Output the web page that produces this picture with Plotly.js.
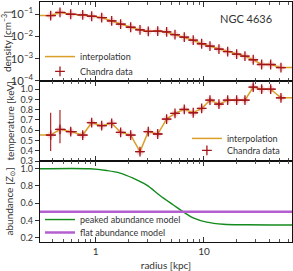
<!DOCTYPE html>
<html>
<head>
<meta charset="utf-8">
<script src="https://cdn.plot.ly/plotly-3.0.1.min.js"></script>
<style>html,body{margin:0;padding:0;background:#fff;}#chart{width:293px;height:271px;}</style>
</head>
<body>
<div id="chart"></div>
<script>
// ---- data ----
var radius = [0.384, 0.468, 0.588, 0.759, 0.918, 1.136, 1.405, 1.70, 2.105, 2.565, 3.06, 3.74, 4.52, 5.40, 6.58, 7.96, 9.52, 11.36, 13.75, 16.55, 20.04, 23.9, 28.5, 34.1, 41.3, 51.4];
var binEdges = [0.35, 0.43, 0.53, 0.67, 0.84, 1.03, 1.27, 1.55, 1.90, 2.33, 2.80, 3.38, 4.11, 4.94, 5.96, 7.24, 8.70, 10.40, 12.50, 15.09, 18.21, 21.89, 26.10, 31.17, 37.54, 46.07, 56.0];
var density = [0.087, 0.12, 0.10, 0.093, 0.081, 0.071, 0.05, 0.036, 0.026, 0.020, 0.017, 0.0175, 0.016, 0.012, 0.0093, 0.0068, 0.0047, 0.0037, 0.0027, 0.0021, 0.0016, 0.0013, 0.0009, 0.00055, 0.00055, 0.0004];
var temperature = [0.553, 0.608, 0.586, 0.553, 0.673, 0.644, 0.667, 0.579, 0.553, 0.391, 0.586, 0.563, 0.709, 0.764, 0.803, 0.77, 0.812, 0.893, 0.854, 0.893, 0.893, 0.893, 1.02, 1.0, 1.0, 0.916];
var tempErrUp = [0.217, 0.19, 0.03, 0.03, 0.02, 0.02, 0.02, 0.02, 0.02, 0.02, 0.02, 0.02, 0.02, 0.02, 0.02, 0.02, 0.02, 0.02, 0.02, 0.02, 0.02, 0.02, 0.03, 0.03, 0.03, 0.02];
var tempErrDown = [0.155, 0.135, 0.03, 0.03, 0.02, 0.02, 0.02, 0.02, 0.02, 0.02, 0.02, 0.02, 0.02, 0.02, 0.02, 0.02, 0.02, 0.02, 0.02, 0.02, 0.02, 0.02, 0.03, 0.03, 0.03, 0.02];
var axisEnds = [0.306, 65];
var abundRadius = [0.306, 0.886, 1.26, 1.68, 2.22, 2.96, 3.92, 5.21, 6.44, 7.96, 10.6, 15.1, 24.8, 65];
var peakedAbund = [1.0, 1.0, 0.98, 0.95, 0.89, 0.81, 0.69, 0.58, 0.50, 0.43, 0.38, 0.356, 0.35, 0.348];
var flatAbund = [0.5, 0.5];
var majorTicks = [1, 10];
var majorLabels = ['1', '10'];
var minorTicks = [0.4, 0.5, 0.6, 0.7, 0.8, 0.9, 2, 3, 4, 5, 6, 7, 8, 9, 20, 30, 40, 50, 60];

// ---- derived ----
var errPlus = radius.map(function(r, i){ return binEdges[i+1] - r; });
var errMinus = radius.map(function(r, i){ return r - binEdges[i]; });
var densInterpX = [axisEnds[0]].concat(radius, [axisEnds[1]]);
var densInterpY = [density[0]].concat(density, [density[density.length-1]]);
var tempInterpY = [temperature[0]].concat(temperature, [temperature[temperature.length-1]]);

var GOLD = '#d9a02a', RED = '#a3151a', HALO = 'rgba(225,90,100,0.22)';
var FONT = 'Lato, "DejaVu Sans", sans-serif';

function dataTrace(y, xa, ya, legend, eY) {
  var t = {x: radius, y: y, xaxis: xa, yaxis: ya, mode: 'markers', type: 'scatter', name: 'Chandra data',
    legend: legend,
    marker: {symbol: 'cross-thin', size: 7, color: RED, line: {color: RED, width: 1.3}},
    error_x: {type: 'data', symmetric: false, array: errPlus, arrayminus: errMinus, color: RED, thickness: 1.1, width: 0}};
  if (eY) t.error_y = {type: 'data', symmetric: false, array: eY[0], arrayminus: eY[1], color: RED, thickness: 1.1, width: 0};
  return t;
}
function haloTrace(y, xa, ya) {
  return {x: radius, y: y, xaxis: xa, yaxis: ya, mode: 'markers', type: 'scatter', showlegend: false, hoverinfo: 'skip',
    marker: {symbol: 'circle', size: 7, color: HALO}};
}

var traces = [
  {x: densInterpX, y: densInterpY, xaxis: 'x', yaxis: 'y', mode: 'lines', name: 'interpolation', legend: 'legend',
   line: {color: GOLD, width: 1.5}},
  haloTrace(density, 'x', 'y'),
  dataTrace(density, 'x', 'y', 'legend2'),
  {x: densInterpX, y: tempInterpY, xaxis: 'x2', yaxis: 'y2', mode: 'lines', name: 'interpolation', legend: 'legend3',
   line: {color: GOLD, width: 1.5}},
  haloTrace(temperature, 'x2', 'y2'),
  dataTrace(temperature, 'x2', 'y2', 'legend4', [tempErrUp, tempErrDown]),
  {x: abundRadius, y: peakedAbund, xaxis: 'x3', yaxis: 'y3', mode: 'lines', name: 'peaked abundance model', legend: 'legend5',
   line: {color: '#138a1c', width: 1.4, shape: 'spline'}},
  {x: axisEnds, y: flatAbund, xaxis: 'x3', yaxis: 'y3', mode: 'lines', name: 'flat abundance model', legend: 'legend6',
   line: {color: '#b45fcf', width: 2.5}}
];

function xax(anchor, showLabels, title) {
  var a = {type: 'log', range: [Math.log10(axisEnds[0]), Math.log10(axisEnds[1])], anchor: anchor,
    tickvals: majorTicks, ticktext: majorLabels, showticklabels: showLabels,
    ticks: 'inside', ticklen: 5, tickcolor: '#333', showline: true, linecolor: '#111', linewidth: 1.2, mirror: 'allticks',
    showgrid: false, zeroline: false, tickfont: {size: 10, color: '#333', family: FONT},
    minor: {tickvals: minorTicks, ticks: 'inside', ticklen: 3, tickcolor: '#555', showgrid: false}};
  if (title) a.title = {text: title, font: {size: 10, color: '#333', family: FONT}, standoff: 6};
  return a;
}
function yax(anchor, domain, extra) {
  var a = {anchor: anchor, domain: domain, ticks: 'outside', ticklen: 4, tickcolor: '#333', showline: true, linecolor: '#111',
    linewidth: 1.2, mirror: true, showgrid: false, zeroline: false, tickfont: {size: 9, color: '#333', family: FONT}};
  for (var k in extra) a[k] = extra[k];
  return a;
}
var titleFont = {size: 10, color: '#333', family: FONT};
var legFont = {size: 9, color: '#333', family: FONT};
function leg(x, y) {
  return {x: x, y: y, xanchor: 'left', yanchor: 'top', bgcolor: 'rgba(0,0,0,0)', font: legFont};
}

var layout = {
  width: 293, height: 271, margin: {l: 40, r: 1, t: 2, b: 29},
  paper_bgcolor: '#fff', plot_bgcolor: '#fff', showlegend: true,
  font: {family: FONT, color: '#333'},
  xaxis: xax('y', false),
  xaxis2: xax('y2', false),
  xaxis3: xax('y3', true, 'radius [kpc]'),
  yaxis: yax('x', [0.671, 1], {type: 'log', range: [-4, -0.45], dtick: 1, exponentformat: 'power',
    title: {text: 'density [cm<sup>\u22123</sup>]', font: titleFont, standoff: 2}}),
  yaxis2: yax('x2', [0.3375, 0.671], {range: [0.3, 1.08], dtick: 0.1, tickformat: '.1f',
    title: {text: 'temperature [keV]', font: titleFont, standoff: 4}}),
  yaxis3: yax('x3', [0, 0.3375], {range: [0.15, 1.09], dtick: 0.2, tickformat: '.1f',
    title: {text: 'abundance [<i>Z</i><sub>\u2299</sub>]', font: titleFont, standoff: 5}}),
  legend: leg(0.0, 0.833),
  legend2: leg(0.0, 0.771),
  legend3: leg(0.583, 0.492),
  legend4: leg(0.583, 0.442),
  legend5: leg(0.0, 0.154),
  legend6: leg(0.0, 0.100),
  annotations: [{text: 'NGC 4636', xref: 'paper', yref: 'paper', x: 0.93, y: 0.965, xanchor: 'right', yanchor: 'top',
    showarrow: false, font: {size: 11, color: '#333', family: FONT}}]
};

Plotly.newPlot('chart', traces, layout, {displayModeBar: false, staticPlot: true});
</script>
</body>
</html>
